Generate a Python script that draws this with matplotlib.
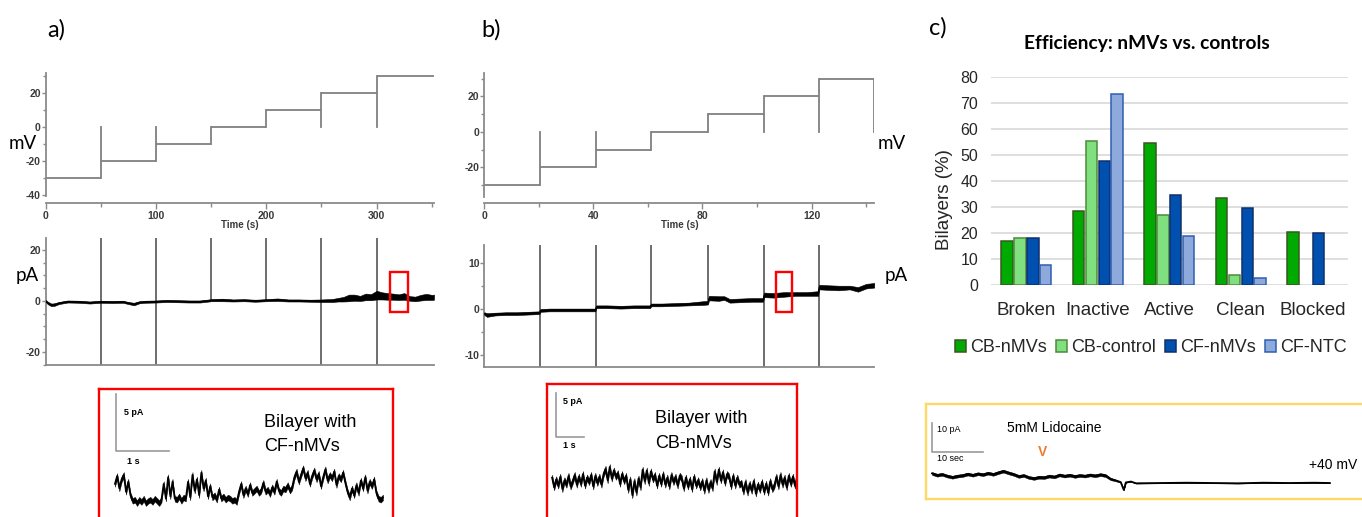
import numpy as np
import matplotlib
matplotlib.use("Agg")
import matplotlib.pyplot as plt
from matplotlib.patches import Rectangle, Patch
from matplotlib.ticker import MultipleLocator

plt.rcParams['axes.unicode_minus'] = False

# ---------------- data ----------------
# panel a: voltage protocol (step edges in s, step levels in mV)
a_step_t = [0, 50, 100, 150, 200, 250, 300, 352]
a_step_mv = [-30, -20, -10, 0, 10, 20, 30]
# panel a: current trace (time s, mean pA, noise half-width pA)
a_i_t = [0, 2, 5, 8, 12, 20, 30, 40, 50, 60, 70, 75, 80, 85, 90, 100, 110, 120, 130, 140,
         150, 160, 170, 180, 190, 200, 210, 220, 230, 240, 250, 260, 265, 270, 275, 280, 285,
         290, 295, 300, 305, 310, 315, 320, 325, 330, 335, 340, 345, 350, 352]
a_i_mid = [0.0, -0.8, -1.5, -1.4, -0.8, -0.2, -0.3, -0.6, -0.3, -0.4, -0.3, -0.8, -1.2, -0.5,
           -0.3, -0.2, 0.0, -0.1, -0.2, -0.2, 0.3, 0.4, 0.2, 0.3, 0.1, 0.3, 0.5, 0.2, 0.2, 0.1,
           0.1, 0.2, 0.5, 0.7, 1.2, 1.3, 1.0, 1.6, 1.5, 2.3, 2.0, 1.8, 1.7, 1.5, 1.8, 1.0, 0.8,
           1.3, 1.6, 1.4, 1.5]
a_i_spread = [0.4, 0.5, 0.5, 0.5, 0.4, 0.4, 0.4, 0.4, 0.4, 0.4, 0.4, 0.4, 0.5, 0.4, 0.4, 0.4,
              0.4, 0.4, 0.4, 0.4, 0.4, 0.5, 0.4, 0.4, 0.4, 0.4, 0.5, 0.4, 0.4, 0.4, 0.5, 0.6,
              0.7, 0.9, 1.3, 1.2, 1.0, 1.3, 1.2, 1.7, 1.4, 1.3, 1.2, 1.1, 1.3, 0.9, 0.9, 1.1,
              1.2, 1.0, 1.0]
a_spike_t = [50, 100, 150, 200, 250, 300]
a_spike_kind = ['full', 'full', 'up', 'up', 'full', 'full']
a_zoom_box = (312, -4.3, 16, 15.6)

# panel b
b_step_t = [0, 20.4, 40.9, 61.0, 82.2, 102.4, 122.6, 143]
b_step_mv = [-30, -20, -10, 0, 10, 20, 30]
b_i_t = [0, 1, 4, 8, 12, 16, 20.2, 20.6, 24, 28, 32, 36, 40.7, 41.1, 45, 50, 55, 60.8, 61.2,
         65, 70, 75, 80, 82.0, 82.4, 86, 88, 90, 94, 98, 102.2, 102.6, 106, 110, 114, 118,
         122.4, 122.8, 126, 130, 134, 137, 140, 143]
b_i_mid = [-1.0, -1.3, -1.1, -1.0, -1.0, -0.9, -0.8, -0.3, -0.2, -0.2, -0.2, -0.2, -0.2, 0.5,
           0.5, 0.4, 0.5, 0.5, 0.9, 0.9, 1.0, 1.1, 1.3, 1.4, 2.4, 2.3, 2.4, 1.8, 1.9, 2.0,
           2.0, 3.1, 3.0, 3.2, 3.3, 3.3, 3.4, 4.8, 4.7, 4.6, 4.7, 4.3, 5.0, 5.2]
b_i_spread = [0.3, 0.4, 0.3, 0.3, 0.3, 0.3, 0.3, 0.3, 0.3, 0.3, 0.3, 0.3, 0.3, 0.3, 0.3, 0.3,
              0.3, 0.3, 0.3, 0.3, 0.3, 0.3, 0.4, 0.4, 0.5, 0.5, 0.4, 0.4, 0.4, 0.4, 0.4, 0.5,
              0.5, 0.5, 0.4, 0.4, 0.5, 0.5, 0.5, 0.5, 0.4, 0.5, 0.5, 0.5]
b_spike_t = [20.4, 40.9, 61.0, 82.2, 102.4, 122.6]
b_spike_kind = ['full', 'full', 'up', 'up', 'full', 'full']
b_zoom_box = (107, -0.66, 6, 8.76)

# zoomed single-channel traces (pA, sampled evenly)
inset_a_pA = [1.6, 2.3, 1.2, 2.0, 2.4, 0.9, 1.8,
              0.6, 0.1, 0.2,
              -0.1, 0.2, 0.0, 0.3, -0.1, 0.1, 0.2, 0.0, 0.3, 0.1, -0.1, 0.2,
              1.6, 0.3, 2.2, 0.5, 1.8,
              0.3, 0.2, 0.5, 0.1, 0.4, 0.3,
              1.8, 0.4, 2.4, 1.0, 2.0, 0.6, 2.6, 1.2, 1.9, 0.5, 1.4,
              0.4, 0.6, 0.2, 1.1, 0.3, 0.5, 0.2, 0.4, 0.3,
              0.1, 0.2, 0.0,
              0.9, 1.6, 0.6, 1.2, 0.7, 1.5, 0.8, 1.0,
              1.2, 0.8, 1.0, 1.7, 0.9, 1.1, 0.7, 1.3, 0.9, 1.8, 1.0, 0.8, 1.2, 1.1, 1.5, 1.0, 1.3,
              2.2, 2.7, 1.8, 2.4, 3.0, 2.1, 2.6, 1.6, 2.3, 2.8, 2.0, 2.5, 1.4, 2.2, 2.9, 1.9,
              2.4, 2.1, 2.7, 1.5, 2.3, 2.0, 2.6, 1.7,
              0.9, 0.4, 1.2, 0.6, 1.5, 0.8,
              1.9, 1.2, 2.2, 1.0, 1.8, 1.4, 2.0,
              0.8, 0.3, 0.2, 0.4]
inset_a_dt = 0.0418   # s per sample
inset_b_pA = [0.5, -0.6, 0.3, -0.4, 0.6, -0.8, 0.2, -0.3, 0.7, -0.5, 0.1,
              0.8, -0.3, 0.6, -0.2, 0.9, -0.4, 0.5, 0.0, 0.8, -0.5, 0.7, -0.1, 0.6, -0.3, 0.9,
              1.5, 0.2, 1.7, 0.4, 1.3, 0.6,
              1.0, -0.2, 0.9, 0.1, 0.7,
              -0.9, 0.3, -1.5, 0.1, -1.2, 0.4, -0.6,
              1.4, 0.1, 1.3, -0.1, 1.2, 0.3,
              0.8, -0.4, 0.7, -0.2, 0.9, -0.3, 0.5, -0.5, 0.8, 0.0, 0.6, -0.4, 0.7,
              0.4, -0.7, 0.5, -0.5, 0.3, -0.8, 0.6, -0.4, 0.2, -0.6,
              0.1, -1.0, 0.2, -0.9, 0.0, -0.7,
              1.2, 0.0, 1.4, 0.2, 1.1, -0.1, 0.9,
              0.6, -0.5, 0.7, -0.4, 0.5, -0.3,
              -0.1, -1.1, 0.0, -1.2, -0.2, -1.0, 0.1, -1.3, -0.3, -0.9, 0.0, -1.1, -0.2, -1.2,
              0.1, -0.8, -0.4,
              0.6, -0.5, 0.8, -0.3, 0.5, -0.6, 0.7, -0.2, 0.6, -0.4, 0.5]
inset_b_dt = 0.0735

# lidocaine trace (time s, pA)
lido_t = [0, 1, 2, 3, 4, 5, 6, 7, 8, 9, 10, 11, 12, 13, 14, 15, 16, 17, 18, 19, 20, 21, 22,
          23, 24, 25, 26, 27, 28, 29, 30, 31, 32, 33, 34, 35, 36, 37, 37.6, 38, 39, 40, 45,
          50, 55, 60, 65, 70, 75, 78]
lido_pA = [3.3, 2.7, 3.0, 2.4, 2.0, 2.4, 2.6, 3.1, 2.7, 3.2, 2.9, 3.4, 3.0, 3.6, 4.1, 3.5,
           3.0, 2.3, 2.6, 1.9, 1.6, 2.0, 1.9, 2.4, 2.1, 2.8, 2.4, 2.7, 2.3, 2.6, 2.4, 2.8,
           2.5, 2.9, 2.6, 1.4, 0.9, 0.3, -2.4, 0.2, 0.5, -0.1, 0.0, 0.1, 0.0, -0.1, 0.1,
           0.0, 0.1, 0.0]
lido_spread = [0.5, 0.5, 0.5, 0.5, 0.5, 0.5, 0.5, 0.5, 0.5, 0.5, 0.5, 0.5, 0.5, 0.5, 0.5,
               0.5, 0.5, 0.5, 0.5, 0.5, 0.5, 0.5, 0.5, 0.5, 0.5, 0.5, 0.5, 0.5, 0.5, 0.5,
               0.5, 0.5, 0.5, 0.5, 0.5, 0.4, 0.3, 0.2, 0.1, 0.1, 0.1, 0.1, 0.1, 0.1, 0.1,
               0.1, 0.1, 0.1, 0.1, 0.1]

# panel c bar chart
categories = ['Broken', 'Inactive', 'Active', 'Clean', 'Blocked']
series_names = ['CB-nMVs', 'CB-control', 'CF-nMVs', 'CF-NTC']
cb_nmvs = [17.1, 28.5, 54.8, 33.4, 20.3]
cb_control = [18.0, 55.3, 27.0, 3.7, 0]
cf_nmvs = [18.0, 47.6, 34.7, 29.8, 20.0]
cf_ntc = [7.7, 73.6, 18.9, 2.6, 0]
series_values = [cb_nmvs, cb_control, cf_nmvs, cf_ntc]
face_colors = ['#00AA00', '#80E080', '#0050B0', '#8EA9DB']
edge_colors = ['#385723', '#4E8A3A', '#12306A', '#2F5FAF']

# ---------------- figure ----------------
W, H = 1362, 517
fig = plt.figure(figsize=(W / 100, H / 100), dpi=100)


def add_ax(x0, y0, x1, y1):
    return fig.add_axes([x0 / W, 1 - y1 / H, (x1 - x0) / W, (y1 - y0) / H])


def fx(x):
    return x / W


def fy(y):
    return 1 - y / H


SPINE = '#8a8a8a'
TICKC = '#3a3a3a'
TICKFONT = dict(family='Liberation Sans', size=7.5, weight='bold')


def style_trace(ax, show_x):
    for s in ['top', 'right']:
        ax.spines[s].set_visible(False)
    for s in ['left', 'bottom']:
        ax.spines[s].set_color(SPINE)
        ax.spines[s].set_linewidth(1.3)
    ax.tick_params(axis='y', which='major', length=3, width=1, color=SPINE, pad=0.5,
                   labelcolor=TICKC)
    ax.tick_params(axis='y', which='minor', length=2, width=1, color=SPINE)
    if show_x:
        ax.tick_params(axis='x', which='major', length=4, width=1, color=SPINE, pad=2,
                       labelcolor=TICKC)
        ax.tick_params(axis='x', which='minor', length=3, width=1, color=SPINE)
    else:
        ax.tick_params(axis='x', which='both', length=0, labelbottom=False)
    for lab in ax.get_yticklabels() + ax.get_xticklabels():
        lab.set_fontproperties(matplotlib.font_manager.FontProperties(**TICKFONT))


def draw_steps(ax, t, v, end_drop=False):
    c = '#808080'
    for i, lvl in enumerate(v):
        ax.plot([t[i], t[i + 1]], [lvl, lvl], color=c, lw=1.3, solid_capstyle='butt')
        if i > 0:
            prev = v[i - 1]
            ax.plot([t[i], t[i]], [min(prev, lvl, 0), max(prev, lvl, 0)], color=c, lw=1.3)
    if end_drop:
        ax.plot([t[-1], t[-1]], [0, v[-1]], color=c, lw=1.3)


def draw_current(ax, t, mid, spread, spike_t, spike_kind, box, ytop, ybot):
    t = np.array(t)
    mid = np.array(mid)
    spread = np.array(spread)
    for st, kind in zip(spike_t, spike_kind):
        if kind == 'full':
            ax.plot([st, st], [ybot, ytop], color='#555555', lw=1.2, zorder=2)
        else:
            ax.plot([st, st], [np.interp(st, t, mid), ytop], color='#555555', lw=1.2, zorder=2)
    ax.fill_between(t, mid - spread, mid + spread, color='black', lw=0.4, zorder=3)
    ax.plot(t, mid, color='black', lw=0.8, zorder=3)
    ax.add_patch(Rectangle((box[0], box[1]), box[2], box[3], fill=False, ec='red', lw=1.7,
                           zorder=5))


# ---- panel a ----
axa1 = add_ax(45.7, 73, 434, 202.7)
axa1.set_xlim(0, 352)
axa1.set_ylim(-44.7, 31.8)
draw_steps(axa1, a_step_t, a_step_mv)
axa1.spines['left'].set_bounds(-41, 31.8)
axa1.set_yticks([-40, -20, 0, 20])
axa1.set_yticks([-30, -10, 10, 30], minor=True)
axa1.set_xticks([0, 100, 200, 300])
axa1.set_xticks([50, 150, 250, 350], minor=True)
style_trace(axa1, True)
fig.text(fx(240), fy(225), 'Time (s)', ha='center', va='center', family='Liberation Sans',
         size=7, weight='bold', color=TICKC)

axa2 = add_ax(45.7, 238, 434, 365)
axa2.set_xlim(0, 352)
axa2.set_ylim(-25.1, 24.7)
draw_current(axa2, a_i_t, a_i_mid, a_i_spread, a_spike_t, a_spike_kind, a_zoom_box, 24.7, -25.1)
axa2.set_yticks([-20, 0, 20])
axa2.yaxis.set_minor_locator(MultipleLocator(5))
style_trace(axa2, False)

# ---- panel b ----
axb1 = add_ax(484.3, 73.3, 874.3, 202.7)
axb1.set_xlim(0, 143)
axb1.set_ylim(-40, 33.1)
draw_steps(axb1, b_step_t, b_step_mv, end_drop=True)
axb1.spines['left'].set_bounds(-37, 33.1)
axb1.set_yticks([-20, 0, 20])
axb1.set_yticks([-30, -10, 10, 30], minor=True)
axb1.set_xticks([0, 40, 80, 120])
axb1.set_xticks([20, 60, 100, 140], minor=True)
style_trace(axb1, True)
fig.text(fx(680), fy(225), 'Time (s)', ha='center', va='center', family='Liberation Sans',
         size=7, weight='bold', color=TICKC)

axb2 = add_ax(484.3, 245, 874.3, 366.7)
axb2.set_xlim(0, 143)
axb2.set_ylim(-12.6, 14.0)
draw_current(axb2, b_i_t, b_i_mid, b_i_spread, b_spike_t, b_spike_kind, b_zoom_box, 14.0, -12.6)
axb2.set_yticks([-10, 0, 10])
axb2.yaxis.set_minor_locator(MultipleLocator(5))
style_trace(axb2, False)

# unit labels & panel letters
LBL = dict(family='Lato', size=13.5, color='black', va='center')
fig.text(fx(23), fy(143), 'mV', ha='center', **LBL)
fig.text(fx(27), fy(276), 'pA', ha='center', **LBL)
fig.text(fx(892), fy(143), 'mV', ha='center', **LBL)
fig.text(fx(896), fy(276), 'pA', ha='center', **LBL)
LET = dict(family='Lato', size=17, color='black', ha='center', va='center')
fig.text(fx(56), fy(30), 'a)', **LET)
fig.text(fx(491), fy(30), 'b)', **LET)
fig.text(fx(938), fy(28), 'c)', **LET)


# ---- zoomed insets ----
def inset_box(x0, y0, x1, y1, color, lw):
    ax = add_ax(x0, y0, x1, y1)
    ax.set_xticks([])
    ax.set_yticks([])
    ax.patch.set_visible(False)
    for s in ax.spines.values():
        s.set_color(color)
        s.set_linewidth(lw)
    return ax


# inset a: 53 px per s, 11.3 px per pA
ia = inset_box(99, 389, 393, 530, 'red', 1.7)
ia.set_xlim(0, 294 / 53)
ia.set_ylim(-28 / 11.3, (530 - 389 - 28) / 11.3)
ta = 0.30 + inset_a_dt * np.arange(len(inset_a_pA))
va = np.array(inset_a_pA)
ia.fill_between(ta, va - 0.25, va + 0.25, color='black', lw=0.3)
ia.plot(ta, va, color='black', lw=1.2)
ia.plot([0.32, 0.32, 1.32], [9.54, 4.54, 4.54], color='#9a9a9a', lw=1.2)
ia.text(0.47, 7.9, '5 pA', family='Liberation Sans', size=6.5, weight='bold', va='center')
ia.text(0.53, 3.6, '1 s', family='Liberation Sans', size=6.5, weight='bold', va='center')
ia.text(3.11, 7.05, 'Bilayer with', family='Liberation Sans', size=13, va='center')
ia.text(3.11, 4.9, 'CF-nMVs', family='Liberation Sans', size=13, va='center')

# inset b: 28 px per s, 8.8 px per pA
ib = inset_box(547, 384, 797, 530, 'red', 1.7)
ib.set_xlim(0, 250 / 28)
ib.set_ylim(-48 / 8.8, (530 - 384 - 48) / 8.8)
tb = 0.18 + inset_b_dt * np.arange(len(inset_b_pA))
vb = np.array(inset_b_pA)
ib.fill_between(tb, vb - 0.35, vb + 0.35, color='black', lw=0.3)
ib.plot(tb, vb, color='black', lw=1.2)
ib.plot([0.32, 0.32, 1.32], [10.11, 5.11, 5.11], color='#9a9a9a', lw=1.2)
ib.text(0.57, 9.2, '5 pA', family='Liberation Sans', size=6.5, weight='bold', va='center')
ib.text(0.57, 4.1, '1 s', family='Liberation Sans', size=6.5, weight='bold', va='center')
ib.text(3.86, 7.16, 'Bilayer with', family='Liberation Sans', size=13, va='center')
ib.text(3.86, 4.43, 'CB-nMVs', family='Liberation Sans', size=13, va='center')

# lidocaine inset: 5.1 px per s, 2.9 px per pA
il = inset_box(926, 404, 1372, 499, '#FFD966', 1.7)
il.set_xlim(0, 446 / 5.1)
il.set_ylim(-16 / 2.9, (499 - 404 - 16) / 2.9)
tl = 1.18 + np.array(lido_t)
vl = np.array(lido_pA)
sl = np.array(lido_spread)
il.fill_between(tl, vl - sl, vl + sl, color='black', lw=0.3)
il.plot(tl, vl, color='black', lw=1.3)
il.plot([1.18, 1.18, 11.18], [20.7, 10.7, 10.7], color='#9a9a9a', lw=1.2)
il.text(2.16, 18.3, '10 pA', family='Liberation Sans', size=6.5, va='center')
il.text(2.16, 8.3, '10 sec', family='Liberation Sans', size=6.5, va='center')
il.text(15.9, 19.0, '5mM Lidocaine', family='Liberation Sans', size=10, va='center')
il.text(22.9, 10.7, 'V', family='Liberation Sans', size=10, weight='bold', color='#ED7D31',
        ha='center', va='center')
il.text(84.5, 6.2, '+40 mV', family='Liberation Sans', size=10, ha='right', va='center')

# ---- panel c: bar chart ----
axc = add_ax(990.7, 77.3, 1348, 285)
x = np.arange(len(categories))
bw = 0.16
step = 0.18
for i, (vals, fc, ec) in enumerate(zip(series_values, face_colors, edge_colors)):
    vals = np.array(vals, dtype=float)
    keep = vals > 0
    axc.bar((x + (i - 1.5) * step)[keep], vals[keep], width=bw, color=fc, edgecolor=ec,
            linewidth=1.1, zorder=3)
axc.set_xlim(-0.5, 4.5)
axc.set_ylim(0, 80)
axc.set_yticks(range(0, 81, 10))
axc.yaxis.grid(True, color='#D9D9D9', lw=1.2, zorder=0)
axc.set_axisbelow(True)
for s in axc.spines.values():
    s.set_visible(False)
axc.set_xticks(x)
axc.set_xticklabels(categories, family='Liberation Sans', size=13.5)
axc.tick_params(axis='x', length=0, pad=12, colors='#262626')
axc.tick_params(axis='y', length=0, pad=9, labelsize=11.5, colors='#262626')
for lab in axc.get_yticklabels():
    lab.set_family('Liberation Sans')
axc.set_ylabel('Bilayers (%)', family='Liberation Sans', size=13.5, color='#262626')
axc.yaxis.set_label_coords((944.5 - 990.7) / 357.3, (285 - 200) / 207.7)
axc.yaxis.label.set_va('center')
fig.text(fx(1147), fy(44), 'Efficiency: nMVs vs. controls', ha='center', va='center',
         family='Lato', weight='bold', size=13.8)

handles = [Patch(facecolor=fc, edgecolor=ec, linewidth=1.1) for fc, ec in zip(face_colors, edge_colors)]
leg = fig.legend(handles, series_names, loc='center', bbox_to_anchor=(fx(1151), fy(348)),
                 ncol=4, frameon=False, handlelength=0.6, handleheight=0.6,
                 handletextpad=0.25, columnspacing=0.5, borderaxespad=0, borderpad=0,
                 prop=dict(family='Liberation Sans', size=13))
for t in leg.get_texts():
    t.set_color('#262626')

fig.savefig('out.png', dpi=100)
